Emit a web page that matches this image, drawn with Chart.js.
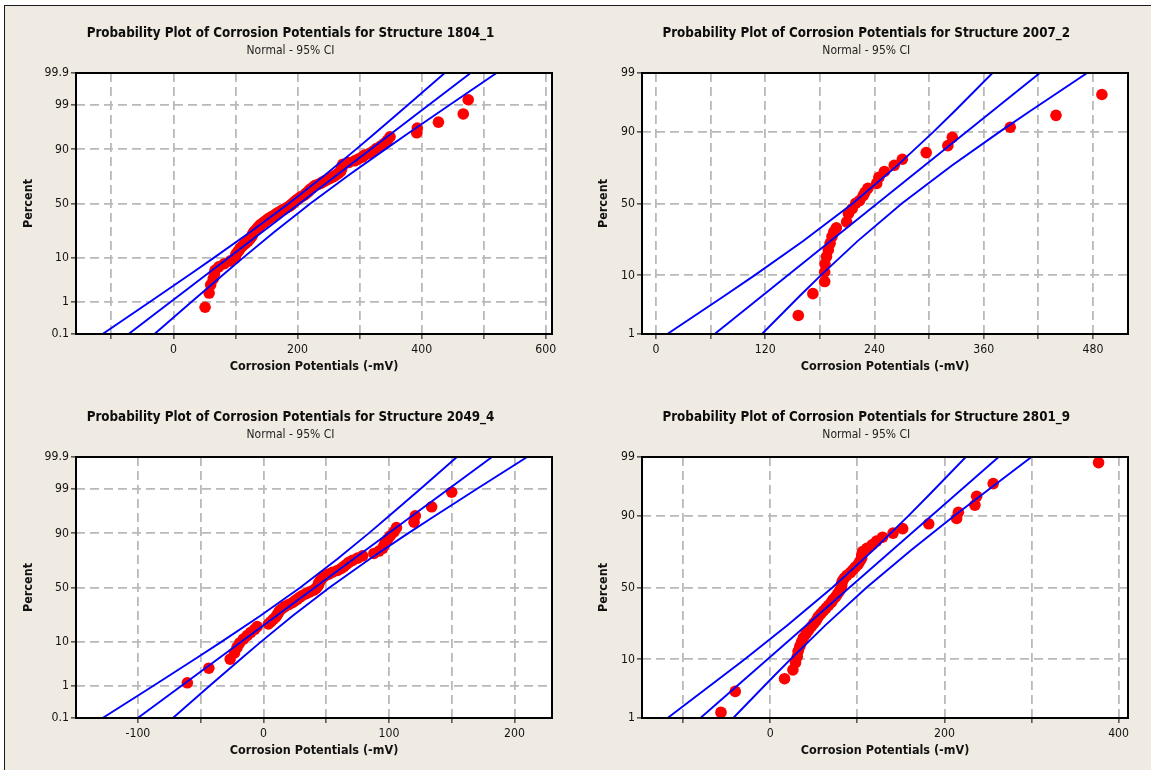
<!DOCTYPE html>
<html>
<head>
<meta charset="utf-8">
<title>Probability Plots of Corrosion Potentials</title>
<script src="https://cdn.jsdelivr.net/npm/chart.js@4.4.1/dist/chart.umd.min.js"></script>
<style>
  html, body { margin: 0; padding: 0; background: #ffffff; width: 1151px; height: 770px; overflow: hidden; }
  #sheet { position: absolute; left: 4px; top: 5px; width: 1147px; height: 765px;
           background: #efebe2; border-left: 1px solid #1a1a1a; border-top: 1px solid #1a1a1a; }
  canvas { position: absolute; }
</style>
</head>
<body>
<div id="sheet"></div>
<canvas id="plot1804" width="575" height="384" style="left:0px;top:0px"></canvas>
<canvas id="plot2007" width="576" height="384" style="left:575px;top:0px"></canvas>
<canvas id="plot2049" width="575" height="384" style="left:0px;top:384px"></canvas>
<canvas id="plot2801" width="576" height="384" style="left:575px;top:384px"></canvas>
<script>
// ---------- data: corrosion potentials (-mV) and plotting percents ----------
const percentTicksWide   = [0.1, 1, 10, 50, 90, 99, 99.9];
const percentTicksNarrow = [1, 10, 50, 90, 99];

// Structure 1804_1
const potentials1804 = [51, 57.5, 60, 64, 66, 67, 73, 82, 92, 99,
  100, 101, 104, 106, 108, 111, 114, 117, 120, 122,
  124, 126, 127, 128, 129, 131, 133, 135, 137, 138,
  140, 143, 145, 148, 150, 152, 155, 158, 161, 164,
  166, 169, 172, 175, 178, 181, 184, 187, 189, 191,
  193, 195, 197, 199, 201, 204, 206, 210, 212, 214,
  216, 218, 219, 221, 224, 226, 228, 233, 237, 240,
  244, 248, 252, 256, 260, 263, 266, 269, 270, 271,
  271, 272, 273, 282, 292, 298, 304, 308, 316, 322,
  327, 334, 340, 345, 349, 392, 393, 427, 467, 475];
const percents1804 = [0.7, 1.7, 2.7, 3.7, 4.7, 5.7, 6.7, 7.7, 8.7, 9.7,
  10.7, 11.7, 12.7, 13.6, 14.6, 15.6, 16.6, 17.6, 18.6, 19.6,
  20.6, 21.6, 22.6, 23.6, 24.6, 25.6, 26.6, 27.6, 28.6, 29.6,
  30.6, 31.6, 32.6, 33.6, 34.6, 35.6, 36.6, 37.6, 38.5, 39.5,
  40.5, 41.5, 42.5, 43.5, 44.5, 45.5, 46.5, 47.5, 48.5, 49.5,
  50.5, 51.5, 52.5, 53.5, 54.5, 55.5, 56.5, 57.5, 58.5, 59.5,
  60.5, 61.5, 62.4, 63.4, 64.4, 65.4, 66.4, 67.4, 68.4, 69.4,
  70.4, 71.4, 72.4, 73.4, 74.4, 75.4, 76.4, 77.4, 78.4, 79.4,
  80.4, 81.4, 82.4, 83.4, 84.4, 85.4, 86.4, 87.4, 88.3, 89.3,
  90.3, 91.3, 92.3, 93.3, 94.3, 95.3, 96.3, 97.3, 98.3, 99.3];
const fitPotentials1804 = [-72.3, 478.9];
const fitPercents1804   = [0.1, 99.9];
const ciPercents1804 = [0.1, 1, 5, 10, 25, 50, 75, 90, 95, 99, 99.9];
const ciLower1804 = [-114.1, -37.7, 29.9, 65.5, 123.8, 185.9, 244.2, 294.1, 323.3, 377.3, 437.1];
const ciUpper1804 = [-30.5, 29.3, 83.3, 112.5, 162.4, 220.7, 282.8, 341.1, 376.7, 444.3, 520.7];
const xRange1804  = [-157, 610];
const xGrid1804   = [-100, 0, 100, 200, 300, 400, 500, 600];
const xLabels1804 = [0, 200, 400, 600];

// Structure 2007_2
const potentials2007 = [156.3, 172.3, 185.3, 185.3, 185.6, 187.3, 189.3, 191.3, 193.3, 195.3,
  198.1, 209.4, 211.4, 215.5, 219.5, 223.6, 227.6, 229.6, 232.8, 242.4,
  244.8, 250.9, 261.7, 270.6, 296.8, 320.6, 325.5, 389.1, 439.4, 489.8];
const percents2007 = [2.3, 5.4, 8.2, 11.1, 14.0, 17.2, 20.4, 23.9, 27.7, 30.7,
  33.2, 37.1, 42.8, 46.3, 50.2, 52.1, 55.6, 57.9, 60.7, 64.0,
  67.9, 71.6, 75.2, 78.5, 81.8, 84.9, 88.1, 91.3, 94.2, 97.4];
const fitPotentials2007 = [64.4, 421.6];
const fitPercents2007   = [1, 99];
const ciPercents2007 = [1, 5, 10, 25, 50, 75, 90, 95, 99];
const ciLower2007 = [12.4, 75.3, 108.2, 161.3, 216.0, 264.9, 305.0, 327.9, 369.6];
const ciUpper2007 = [116.4, 158.1, 181.0, 221.1, 270.0, 324.7, 377.8, 410.7, 473.6];
const xRange2007  = [-15.4, 518.5];
const xGrid2007   = [0, 60, 120, 180, 240, 300, 360, 420, 480];
const xLabels2007 = [0, 120, 240, 360, 480];

// Structure 2049_4
const potentials2049 = [-60.6, -43.5, -26.5, -23, -21, -19, -16, -13, -10, -7,
  -5, 4, 6, 8, 10, 11, 12, 13, 15, 17,
  20, 23, 25, 27, 29, 31, 34, 37, 40, 42,
  43, 44, 44, 45, 46, 47, 49, 52, 55, 59,
  62, 64, 66, 68, 71, 75, 79, 88, 92, 95,
  96, 97, 99, 101, 104, 106, 120, 121, 134, 150];
const percents2049 = [1.2, 2.8, 4.5, 6.1, 7.8, 9.4, 11.1, 12.7, 14.4, 16.1,
  17.7, 19.4, 21.0, 22.7, 24.3, 26.0, 27.6, 29.3, 31.0, 32.6,
  34.3, 35.9, 37.6, 39.2, 40.9, 42.5, 44.2, 45.9, 47.5, 49.2,
  50.8, 52.5, 54.1, 55.8, 57.5, 59.1, 60.8, 62.4, 64.1, 65.7,
  67.4, 69.0, 70.7, 72.4, 74.0, 75.7, 77.3, 79.0, 80.6, 82.3,
  83.9, 85.6, 87.3, 88.9, 90.6, 92.2, 93.9, 95.5, 97.2, 98.8];
const fitPotentials2049 = [-100.1, 182.1];
const fitPercents2049   = [0.1, 99.9];
const ciPercents2049 = [0.1, 1, 5, 10, 25, 50, 75, 90, 95, 99, 99.9];
const ciLower2049 = [-128.1, -87.6, -52.0, -33.2, -2.7, 29.4, 58.9, 83.8, 98.2, 124.8, 154.1];
const ciUpper2049 = [-72.1, -42.8, -16.2, -1.8, 23.1, 52.7, 84.7, 115.2, 134.0, 169.6, 210.1];
const xRange2049  = [-149.3, 229.9];
const xGrid2049   = [-100, -50, 0, 50, 100, 150, 200];
const xLabels2049 = [-100, 0, 100, 200];

// Structure 2801_9
const potentials2801 = [-56.6, -40.2, 16.4, 26, 29, 31, 32, 34, 36, 38,
  41, 44, 47, 50, 53, 55, 58, 61, 64, 67,
  70, 72, 75, 77, 79, 81, 82, 82, 83, 85,
  88, 92, 95, 98, 101, 103, 105, 105, 106, 111,
  117, 122, 129, 141, 152, 182, 214, 216, 235, 237,
  256, 377];
const percents2801 = [1.3, 3.2, 5.2, 7.1, 9.0, 10.9, 12.8, 14.7, 16.6, 18.5,
  20.4, 22.3, 24.2, 26.1, 28.1, 30.0, 31.9, 33.8, 35.7, 37.6,
  39.5, 41.4, 43.3, 45.2, 47.1, 49.0, 51.0, 52.9, 54.8, 56.7,
  58.6, 60.5, 62.4, 64.3, 66.2, 68.1, 70.0, 71.9, 73.9, 75.8,
  77.7, 79.6, 81.5, 83.4, 85.3, 87.2, 89.1, 91.0, 92.9, 94.8,
  96.8, 98.7];
const fitPotentials2801 = [-80.2, 262.2];
const fitPercents2801   = [1, 99];
const ciPercents2801 = [1, 5, 10, 25, 50, 75, 90, 95, 99];
const ciLower2801 = [-117.9, -60.2, -29.7, 19.7, 71.4, 118.9, 158.9, 182.0, 224.5];
const ciUpper2801 = [-42.5, 0.0, 23.1, 63.1, 110.6, 162.3, 211.7, 242.2, 299.9];
const xRange2801  = [-147.3, 410.8];
const xGrid2801   = [-100, 0, 100, 200, 300, 400];
const xLabels2801 = [0, 200, 400];

// ---------- normal probability axis ----------
function probit(p) {
  const a = [-3.969683028665376e+01, 2.209460984245205e+02, -2.759285104469687e+02,
             1.383577518672690e+02, -3.066479806614716e+01, 2.506628277459239e+00];
  const b = [-5.447609879822406e+01, 1.615858368580409e+02, -1.556989798598866e+02,
             6.680131188771972e+01, -1.328068155288572e+01];
  const c = [-7.784894002430293e-03, -3.223964580411365e-01, -2.400758277161838e+00,
             -2.549732539343734e+00, 4.374664141464968e+00, 2.938163982698783e+00];
  const d = [7.784695709041462e-03, 3.224671290700398e-01, 2.445134137142996e+00,
             3.754408661907416e+00];
  const lo = 0.02425, hi = 1 - lo;
  let q, r;
  if (p < lo) {
    q = Math.sqrt(-2 * Math.log(p));
    return (((((c[0]*q+c[1])*q+c[2])*q+c[3])*q+c[4])*q+c[5]) / ((((d[0]*q+d[1])*q+d[2])*q+d[3])*q+1);
  }
  if (p > hi) {
    q = Math.sqrt(-2 * Math.log(1 - p));
    return -(((((c[0]*q+c[1])*q+c[2])*q+c[3])*q+c[4])*q+c[5]) / ((((d[0]*q+d[1])*q+d[2])*q+d[3])*q+1);
  }
  q = p - 0.5; r = q * q;
  return (((((a[0]*r+a[1])*r+a[2])*r+a[3])*r+a[4])*r+a[5])*q / (((((b[0]*r+b[1])*r+b[2])*r+b[3])*r+b[4])*r+1);
}
function normalCdf(z) {
  const t = 1 / (1 + 0.3275911 * Math.abs(z) / Math.SQRT2);
  const y = 1 - (((((1.061405429*t - 1.453152027)*t) + 1.421413741)*t - 0.284496736)*t + 0.254829592)*t*Math.exp(-z*z/2);
  return z >= 0 ? 0.5 * (1 + y) : 0.5 * (1 - y);
}

class ProbabilityScale extends Chart.Scale {
  static id = 'probability';
  static defaults = {};
  parse(raw) { const v = +raw; return isFinite(v) ? v : null; }
  determineDataLimits() { this.min = this.options.min; this.max = this.options.max; }
  buildTicks() { return []; }
  configure() {
    super.configure();
    this._zMin = probit(this.min / 100);
    this._zRange = probit(this.max / 100) - this._zMin;
  }
  getLabelForValue(v) { return String(v); }
  getPixelForValue(v) {
    return this.getPixelForDecimal((probit(v / 100) - this._zMin) / this._zRange);
  }
  getValueForPixel(px) {
    return 100 * normalCdf(this._zMin + this.getDecimalForPixel(px) * this._zRange);
  }
}
Chart.register(ProbabilityScale);

// ---------- drawing ----------
const FAMILY = "'DejaVu Sans Condensed', 'DejaVu Sans', sans-serif";
Chart.defaults.font.family = FAMILY;
Chart.defaults.color = '#111';

// white plot area, black frame and the two heading lines
const panelDecor = {
  id: 'panelDecor',
  beforeDraw(chart) {
    const {ctx, chartArea: a} = chart;
    ctx.save();
    ctx.fillStyle = '#ffffff';
    ctx.fillRect(a.left, a.top, a.right - a.left, a.bottom - a.top);
    ctx.restore();
  },
  afterDraw(chart, args, opts) {
    const {ctx, chartArea: a} = chart;
    ctx.save();
    ctx.strokeStyle = '#000';
    ctx.lineWidth = 2;
    ctx.strokeRect(a.left, a.top, a.right - a.left, a.bottom - a.top);
    ctx.textAlign = 'center';
    ctx.textBaseline = 'middle';
    ctx.fillStyle = '#0d0d0d';
    ctx.font = 'bold 13.3px ' + FAMILY;
    ctx.fillText(opts.title, opts.cx, 33.3);
    ctx.fillStyle = '#1e1e1e';
    ctx.font = '12px ' + FAMILY;
    ctx.fillText(opts.subtitle, opts.cx, 50.7);
    ctx.restore();
  }
};

const toPoints = (xs, ps) => xs.map((x, i) => ({x: x, y: ps[i]}));
const blueLine = (xs, ps) => ({
  type: 'line', data: toPoints(xs, ps), borderColor: '#0000ff', borderWidth: 1.9,
  pointRadius: 0, fill: false, tension: 0, order: 0
});

const gridStyle = {
  color: '#b9b9b9', lineWidth: 1.8, tickLength: 5, tickColor: '#000', tickWidth: 1,
  tickBorderDash: [], borderDash: [9, 5]
};
const borderStyle = {display: false, dash: [9, 5]};
const tickFont = {size: 12.2};
const axisTitleFont = {size: 12.5, weight: 'bold', lineHeight: 1};

function drawPanel(id, p) {
  new Chart(document.getElementById(id), {
    type: 'scatter',
    data: {
      datasets: [
        blueLine(p.ciLower, p.ciPercents),
        blueLine(p.fitX, p.fitP),
        blueLine(p.ciUpper, p.ciPercents),
        { data: toPoints(p.x, p.y), backgroundColor: '#ff0000', borderWidth: 0,
          pointRadius: 5.8, order: 1 }
      ]
    },
    options: {
      responsive: false, animation: false, events: [],
      layout: {padding: {left: 0, right: p.padRight, top: 73, bottom: 0}},
      plugins: {
        legend: {display: false}, tooltip: {enabled: false},
        panelDecor: {title: p.title, subtitle: 'Normal - 95% CI', cx: p.cx}
      },
      scales: {
        x: {
          type: 'linear', min: p.xRange[0], max: p.xRange[1],
          afterBuildTicks: s => { s.ticks = p.xGrid.map(v => ({value: v})); },
          afterFit: s => { s.height = 50; },
          ticks: { autoSkip: false, maxRotation: 0, padding: 4, color: '#111', font: tickFont,
                   callback: v => p.xLabels.includes(v) ? String(v) : '' },
          grid: gridStyle, border: borderStyle,
          title: { display: true, text: 'Corrosion Potentials (-mV)', color: '#111',
                   font: axisTitleFont, padding: {top: 0, bottom: 11} }
        },
        y: {
          type: 'probability', position: 'left', min: p.yTicks[0], max: p.yTicks[p.yTicks.length - 1],
          afterBuildTicks: s => { s.ticks = p.yTicks.map(v => ({value: v})); },
          afterFit: s => { s.width = p.yWidth; },
          ticks: { autoSkip: false, padding: 2, color: '#111', font: tickFont },
          grid: gridStyle, border: borderStyle,
          title: { display: true, text: 'Percent', color: '#111',
                   font: axisTitleFont, padding: {top: 22.75, bottom: 0} }
        }
      }
    },
    plugins: [panelDecor]
  });
}

drawPanel('plot1804', {
  title: 'Probability Plot of Corrosion Potentials for Structure 1804_1', cx: 290.5,
  x: potentials1804, y: percents1804, fitX: fitPotentials1804, fitP: fitPercents1804,
  ciPercents: ciPercents1804, ciLower: ciLower1804, ciUpper: ciUpper1804,
  xRange: xRange1804, xGrid: xGrid1804, xLabels: xLabels1804, yTicks: percentTicksWide,
  yWidth: 76, padRight: 23
});
drawPanel('plot2007', {
  title: 'Probability Plot of Corrosion Potentials for Structure 2007_2', cx: 291.3,
  x: potentials2007, y: percents2007, fitX: fitPotentials2007, fitP: fitPercents2007,
  ciPercents: ciPercents2007, ciLower: ciLower2007, ciUpper: ciUpper2007,
  xRange: xRange2007, xGrid: xGrid2007, xLabels: xLabels2007, yTicks: percentTicksNarrow,
  yWidth: 67, padRight: 23
});
drawPanel('plot2049', {
  title: 'Probability Plot of Corrosion Potentials for Structure 2049_4', cx: 290.5,
  x: potentials2049, y: percents2049, fitX: fitPotentials2049, fitP: fitPercents2049,
  ciPercents: ciPercents2049, ciLower: ciLower2049, ciUpper: ciUpper2049,
  xRange: xRange2049, xGrid: xGrid2049, xLabels: xLabels2049, yTicks: percentTicksWide,
  yWidth: 76, padRight: 23
});
drawPanel('plot2801', {
  title: 'Probability Plot of Corrosion Potentials for Structure 2801_9', cx: 291.3,
  x: potentials2801, y: percents2801, fitX: fitPotentials2801, fitP: fitPercents2801,
  ciPercents: ciPercents2801, ciLower: ciLower2801, ciUpper: ciUpper2801,
  xRange: xRange2801, xGrid: xGrid2801, xLabels: xLabels2801, yTicks: percentTicksNarrow,
  yWidth: 67, padRight: 23
});
</script>
</body>
</html>
